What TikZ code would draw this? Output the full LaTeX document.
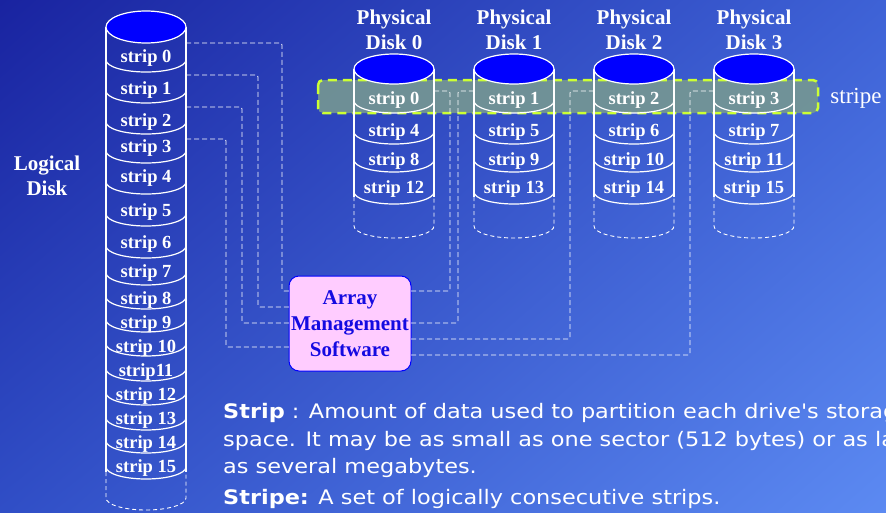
\documentclass[tikz,border=0pt]{standalone}
\usepackage{fontspec}
\usetikzlibrary{shadings}
\setmainfont{Liberation Serif}
\newfontfamily\notefont[FakeStretch=1.12]{DejaVu Sans}
\definecolor{bgdark}{RGB}{25,35,160}
\definecolor{bgmidA}{RGB}{62,98,214}
\definecolor{bgmidB}{RGB}{48,78,198}
\definecolor{bglight}{RGB}{92,138,242}
\definecolor{stripefill}{RGB}{118,152,146}
\definecolor{stripeedge}{RGB}{204,255,51}
\definecolor{amsfill}{RGB}{255,204,255}
\definecolor{amstext}{RGB}{20,10,225}
\tikzset{
  rim/.style={draw=white, line width=1.2pt},
  rimdash/.style={draw=white, line width=0.9pt, dash pattern=on 4pt off 3pt},
  link/.style={draw=white, line width=0.8pt, dash pattern=on 5pt off 3pt, rounded corners=2pt},
  striplbl/.style={text=white, font=\fontsize{18.5}{20}\selectfont\bfseries, inner sep=0pt},
  header/.style={text=white, font=\fontsize{21}{25}\selectfont\bfseries, align=center, inner sep=0pt},
  noteline/.style={anchor=base west, text=white, inner sep=0pt, font=\notefont\fontsize{20}{27}\selectfont},
  botarc/.style={start angle=180, end angle=360, x radius=40pt, y radius=12pt}
}
\begin{document}
\begin{tikzpicture}[x=1pt, y=-1pt]
\useasboundingbox (0,0) rectangle (886,512);
\clip (0,0) rectangle (886,512);
\shade[upper left=bgdark, upper right=bgmidA, lower left=bgmidB, lower right=bglight] (0,0) rectangle (886,512);

\draw[draw=stripeedge, fill=stripefill, fill opacity=0.9, line width=2.5pt, dash pattern=on 9pt off 6pt, rounded corners=5pt] (318,80) rectangle (818,113);
\node[text=white, font=\fontsize{23}{25}\selectfont, inner sep=0pt] (stripelbl) at (856,98) {stripe};

\node[header] (logical) at (47,176) {Logical\\Disk};
\draw[rim] (106,27) -- (106,472) (186,27) -- (186,472);
\draw[rimdash] (106,472) -- (106,498) arc[botarc] -- (186,472);
\draw[rim, fill=blue] (146,27) ellipse [x radius=40pt, y radius=16pt];
\foreach \n/\y/\b [count=\i from 0] in {strip 0/58/72, strip 1/90/103, strip 2/122/134, strip 3/148/163, strip 4/178/194, strip 5/212/226, strip 6/244/258, strip 7/273/285, strip 8/300/309, strip 9/324/332, strip 10/348/356, strip11/372/381, strip 12/396/405, strip 13/420/430, strip 14/444/453, strip 15/468/479}{
  \node[striplbl] (ls\i) at (146,\y) {\n};
  \draw[rim] (106,\b-12) arc[botarc];
}

\foreach \d in {0,1,2,3}{
  \pgfmathsetmacro{\cx}{394+120*\d}
  \node[header] (pd\d) at (\cx,29.5) {Physical\\Disk \d};
  \draw[rim] (\cx-40,69) -- (\cx-40,197) (\cx+40,69) -- (\cx+40,197);
  \draw[rimdash] (\cx-40,197) -- (\cx-40,226) arc[botarc] -- (\cx+40,197);
  \draw[rim, fill=blue] (\cx,69) ellipse [x radius=40pt, y radius=15pt];
  \foreach \k/\y/\b in {0/100/113, 1/132/144, 2/161/172, 3/189/204}{
    \pgfmathtruncatemacro{\s}{\d+4*\k}
    \node[striplbl] (ps\s) at (\cx,\y) {strip \s};
    \draw[rim] (\cx-40,\b-12) arc[botarc];
  }
}

\node[draw=blue, line width=1pt, fill=amsfill, rounded corners=10pt, minimum width=122pt, minimum height=95pt, inner sep=0pt, align=center, text=amstext, font=\fontsize{21}{26}\selectfont\bfseries] (ams) at (350,323.5) {Array\\Management\\Software};

\coordinate (l0) at (186,43);
\coordinate (l1) at (186,75);
\coordinate (l2) at (186,107);
\coordinate (l3) at (186,139);
\coordinate (a0) at (289,291);
\coordinate (a1) at (289,307);
\coordinate (a2) at (289,323);
\coordinate (a3) at (289,347);
\draw[link] (l0) -- ++(96,0) |- (a0);
\draw[link] (l1) -- ++(72,0) |- (a1);
\draw[link] (l2) -- ++(56,0) |- (a2);
\draw[link] (l3) -- ++(40,0) |- (a3);

\coordinate (r0) at (411,291);
\coordinate (r1) at (411,323);
\coordinate (r2) at (411,339);
\coordinate (r3) at (411,355);
\coordinate (p0) at (434,91);
\coordinate (p1) at (474,91);
\coordinate (p2) at (594,91);
\coordinate (p3) at (714,91);
\draw[link] (r0) -- ++(39,0) |- (p0);
\draw[link] (r1) -- ++(47,0) |- (p1);
\draw[link] (r2) -- ++(159,0) |- (p2);
\draw[link] (r3) -- ++(279,0) |- (p3);

\node[noteline] (note1) at (223,418) {\textbf{Strip} : Amount of data used to partition each drive's storage};
\node[noteline] (note2) at (223,446) {space. It may be as small as one sector (512 bytes) or as large};
\node[noteline] (note3) at (223,473) {as several megabytes.};
\node[noteline] (note4) at (223,504) {\textbf{Stripe:} A set of logically consecutive strips.};
\end{tikzpicture}
\end{document}
